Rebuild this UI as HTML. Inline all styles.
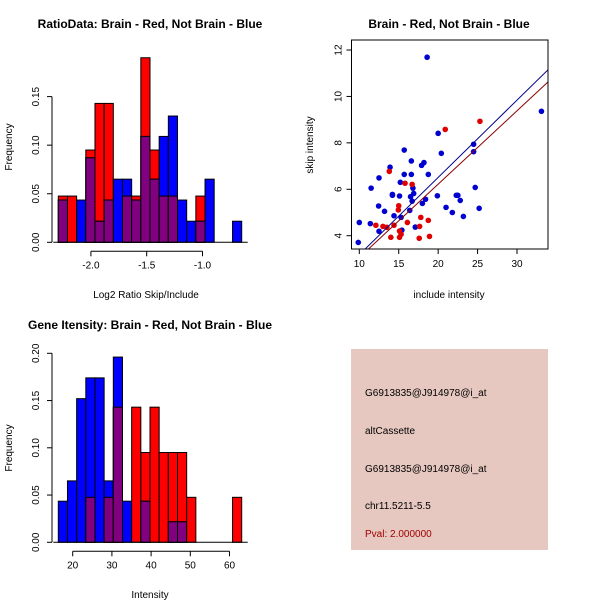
<!DOCTYPE html>
<html><head><meta charset="utf-8"><style>
body{margin:0;background:#fff;width:600px;height:600px;overflow:hidden}
svg{font-family:"Liberation Sans",sans-serif}
</style></head><body>
<svg id="s" width="600" height="600" viewBox="0 0 600 600" xmlns="http://www.w3.org/2000/svg">
<rect width="600" height="600" fill="#fff"/>
<text x="150" y="28" text-anchor="middle" font-weight="bold" font-size="12">RatioData: Brain - Red, Not Brain - Blue</text>
<text x="449" y="28" text-anchor="middle" font-weight="bold" font-size="12">Brain - Red, Not Brain - Blue</text>
<text x="150" y="329" text-anchor="middle" font-weight="bold" font-size="12">Gene Itensity: Brain - Red, Not Brain - Blue</text>
<text x="146" y="298" text-anchor="middle" font-size="10">Log2 Ratio Skip/Include</text>
<text x="449" y="298" text-anchor="middle" font-size="10">include intensity</text>
<text x="150" y="598" text-anchor="middle" font-size="10">Intensity</text>
<text transform="translate(12,147) rotate(-90)" text-anchor="middle" font-size="10">Frequency</text>
<text transform="translate(12,448) rotate(-90)" text-anchor="middle" font-size="10">Frequency</text>
<text transform="translate(313,145) rotate(-90)" text-anchor="middle" font-size="10">skip intensity</text>
<g>
<rect x="351" y="349" width="197" height="201" fill="#e6c8c0"/>
<text x="365" y="396" font-size="10">G6913835@J914978@i_at</text>
<text x="365" y="434" font-size="10">altCassette</text>
<text x="365" y="472" font-size="10">G6913835@J914978@i_at</text>
<text x="365" y="509" font-size="10">chr11.5211-5.5</text>
<text x="365" y="537" font-size="10" fill="#a00000">Pval: 2.000000</text>
</g>
</svg>
<script>
// Ratio histogram data (20 bins)
const ratioRed  = [0.0476,0.0476,0,0.095,0.143,0.143,0,0.0476,0.0476,0.19,0.095,0.0476,0.0476,0,0,0.0476,0,0,0,0];
const ratioBlue = [0.0435,0,0.0435,0.087,0.0217,0.0435,0.065,0.065,0.0435,0.109,0.065,0.109,0.13,0.0435,0.0217,0.0217,0.065,0,0,0.0217];
const ratioYTicks = [0,0.05,0.10,0.15];
const ratioYLabels = ["0.00","0.05","0.10","0.15"];
const ratioXTicks = [-2.0,-1.5,-1.0];
const ratioXLabels = ["-2.0","-1.5","-1.0"];
// Intensity histogram data (20 bins)
const intRed  = [0,0,0,0.0476,0,0.0476,0.143,0,0.143,0.095,0.143,0.095,0.095,0.095,0.0476,0,0,0,0,0.0476];
const intBlue = [0.0435,0.065,0.152,0.174,0.174,0.065,0.196,0.0435,0,0.0435,0,0,0.0217,0.0217,0,0,0,0,0,0];
const intYTicks = [0,0.05,0.10,0.15,0.20];
const intYLabels = ["0.00","0.05","0.10","0.15","0.20"];
const intXTicks = [20,30,40,50,60];
const intXLabels = ["20","30","40","50","60"];
// Scatter data
const blueX = [10,9.87,11.4,11.5,12.45,12.5,12.5,13.2,13.9,14.2,14.2,14.4,15.1,15.2,15.3,15.4,15.7,15.7,16.6,16.6,16.5,16.8,16.9,16.7,16.4,17.1,17.9,18.2,18,18.4,18.75,18.6,19.9,20,20.4,21,21.8,22.3,22.5,22.8,23.2,24.5,24.5,24.7,25.2,33.1];
const blueY = [4.57,3.71,4.52,6.05,5.28,6.49,4.19,5.05,6.95,5.78,5.74,4.86,5.71,6.3,4.79,4.24,7.69,6.64,7.22,6.64,5.68,6.05,5.82,5.49,5.09,4.37,7.03,7.15,5.39,5.57,6.64,11.69,5.72,8.41,7.55,5.22,5,5.74,5.74,5.52,4.83,7.94,7.62,6.08,5.18,9.36];
const redX = [12.1,13,13.5,13.8,14,14.4,15,14.95,15.1,15.1,15.3,15.8,16.1,16.7,17.8,17.65,17.6,18.75,18.9,20.9,25.3];
const redY = [4.45,4.4,4.36,6.77,3.93,4.45,5.29,5.11,4.2,3.93,4.06,6.26,4.57,6.21,4.79,4.4,3.89,4.66,3.97,8.58,8.93];
const blueFit = [-0.15,0.333];
const redFit = [-0.1,0.316];
const scXTicks = [10,15,20,25,30];
const scYTicks = [4,6,8,10,12];

const NS="http://www.w3.org/2000/svg", svg=document.getElementById('s');
function mk(tag,attrs,parent){const e=document.createElementNS(NS,tag);for(const k in attrs)e.setAttribute(k,attrs[k]);(parent||svg).appendChild(e);return e;}

function hist(red,blue,x0,bw,yS,yT,yL,xT,xL,xS,prefix){
  const g=mk('g',{});
  
  
  for(let i=0;i<red.length;i++){
    const x=x0+i*bw, r=red[i], b=blue[i], m=Math.min(r,b);
    if(r>0){const e=mk('rect',{x:x,y:yS(r),width:bw,height:yS(0)-yS(r),fill:'#ff0000',stroke:'#000','stroke-width':1},g);
      
      }
    if(b>0){const e=mk('rect',{x:x,y:yS(b),width:bw,height:yS(0)-yS(b),fill:'#0000ff',stroke:'#000','stroke-width':1},g);
      
      }
    if(m>0){const e=mk('rect',{x:x,y:yS(m),width:bw,height:yS(0)-yS(m),fill:'#800080',stroke:'#000','stroke-width':1},g);
      
      }
  }
  const ax=52;
  mk('line',{x1:ax,x2:ax,y1:yS(yT[0]),y2:yS(yT[yT.length-1]),stroke:'#000'},g);
  yT.forEach((v,i)=>{mk('line',{x1:ax-5,x2:ax,y1:yS(v),y2:yS(v),stroke:'#000'},g);
    const t=mk('text',{transform:`translate(${ax-13},${yS(v)}) rotate(-90)`,'text-anchor':'middle','font-size':10},g);t.textContent=yL[i];
    
    });
  const ay=yS(0)+9;
  mk('line',{x1:xS(xT[0]),x2:xS(xT[xT.length-1]),y1:ay,y2:ay,stroke:'#000'},g);
  xT.forEach((v,i)=>{mk('line',{x1:xS(v),x2:xS(v),y1:ay,y2:ay+5,stroke:'#000'},g);
    const t=mk('text',{x:xS(v),y:ay+17,'text-anchor':'middle','font-size':10},g);t.textContent=xL[i];
    
    });
  mk('line',{x1:x0-5,x2:x0+bw*red.length+6,y1:yS(0),y2:yS(0),stroke:'#000'},g);
}
hist(ratioRed,ratioBlue,58.3,9.17,v=>242.3-v*971.3,ratioYTicks,ratioYLabels,ratioXTicks,ratioXLabels,v=>146.7+(v+1.5)*111.6,'ratio');
hist(intRed,intBlue,58.3,9.17,v=>542.3-v*945,intYTicks,intYLabels,intXTicks,intXLabels,v=>72.7+(v-20)*3.92,'intensity');

// scatter
const sx=v=>359.3+(v-10)*7.885, sy=v=>235.7-(v-4)*23.21;
const L=351.5,R=548,T=40,B=249;
const sg=mk('g',{});


const cp=mk('clipPath',{id:'cp'},sg);
mk('rect',{x:L,y:T,width:R-L,height:B-T},cp);
blueX.forEach((x,i)=>{const c=mk('circle',{cx:sx(x),cy:sy(blueY[i]),r:2.8,fill:'#0000d0'},sg);
  
  });
redX.forEach((x,i)=>{const c=mk('circle',{cx:sx(x),cy:sy(redY[i]),r:2.8,fill:'#e00000'},sg);
  
  });
[[blueFit,'#00008b','blue-fit-line'],[redFit,'#8b0000','red-fit-line']].forEach(([f,c,n])=>{
  const l=mk('line',{x1:sx(5),y1:sy(f[0]+f[1]*5),x2:sx(40),y2:sy(f[0]+f[1]*40),stroke:c,'stroke-width':1,'clip-path':'url(#cp)'},sg);
  
  });
mk('rect',{x:L,y:T,width:R-L,height:B-T,fill:'none',stroke:'#000'},sg);
scXTicks.forEach(v=>{mk('line',{x1:sx(v),x2:sx(v),y1:B,y2:B+5,stroke:'#000'},sg);
  const t=mk('text',{x:sx(v),y:B+18,'text-anchor':'middle','font-size':10},sg);t.textContent=v;
  
  });
scYTicks.forEach(v=>{mk('line',{x1:L-5,x2:L,y1:sy(v),y2:sy(v),stroke:'#000'},sg);
  const t=mk('text',{transform:`translate(${L-10},${sy(v)}) rotate(-90)`,'text-anchor':'middle','font-size':10},sg);t.textContent=v;
  
  });
</script>
</body></html>
